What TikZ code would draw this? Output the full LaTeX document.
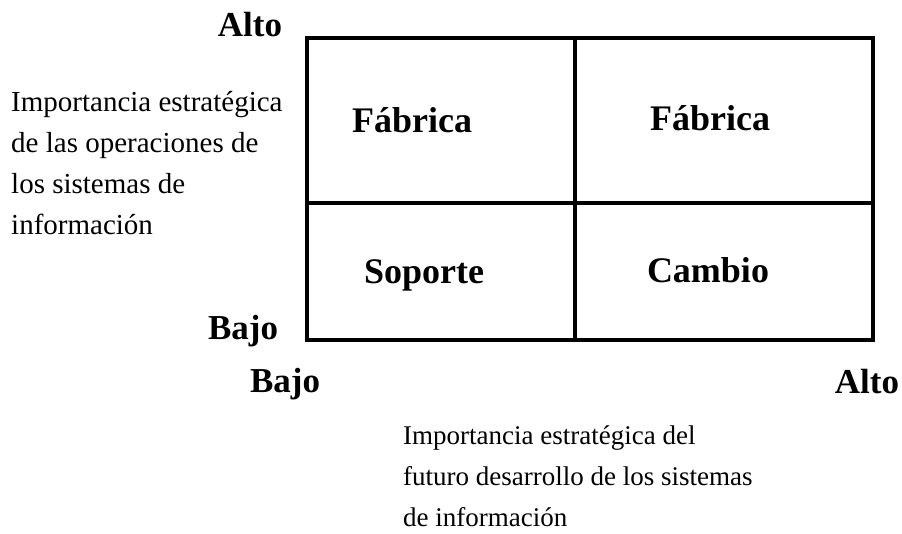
\documentclass[tikz,border=0pt]{standalone}
\usepackage{fontspec}
\setmainfont{Liberation Serif}
\usetikzlibrary{positioning}
\tikzset{
  cell/.style={inner sep=0pt, anchor=base, font=\fontsize{36}{40}\selectfont\bfseries},
  corner/.style={inner sep=0pt, anchor=base, font=\fontsize{35}{40}\selectfont\bfseries},
  axistext/.style={inner sep=0pt, anchor=base west, align=left, font=\fontsize{28}{41}\selectfont},
  grid/.style={line width=3.2pt},
}
\begin{document}
\begin{tikzpicture}[x=1pt, y=-1pt]
    \useasboundingbox (0,0) rectangle (902,534);
    \draw[grid] (307,38) rectangle (873,340);
    \draw[grid] (575,38) -- (575,340);
    \draw[grid] (307,203) -- (873,203);
    \node[cell] (f1) at (412,133) {Fábrica};
    \node[cell] (f2) at (710,131) {Fábrica};
    \node[cell] (sop) at (424,284) {Soporte};
    \node[cell] (cam) at (708,283) {Cambio};
    \node[corner] (yalto) at (250,37) {Alto};
    \node[corner] (ybajo) at (243,340) {Bajo};
    \node[corner] (xbajo) at (285,392) {Bajo};
    \node[corner] (xalto) at (867,393) {Alto};
    % last baseline of each block
    \node[axistext, font=\fontsize{29}{41}\selectfont] (ylab) at (11,235) {Importancia estratégica\\de las operaciones de\\los sistemas de\\información};
    \node[axistext, font=\fontsize{27}{41}\selectfont] (xlab) at (403,526) {Importancia estratégica del\\futuro desarrollo de los sistemas\\de información};
\end{tikzpicture}
\end{document}
